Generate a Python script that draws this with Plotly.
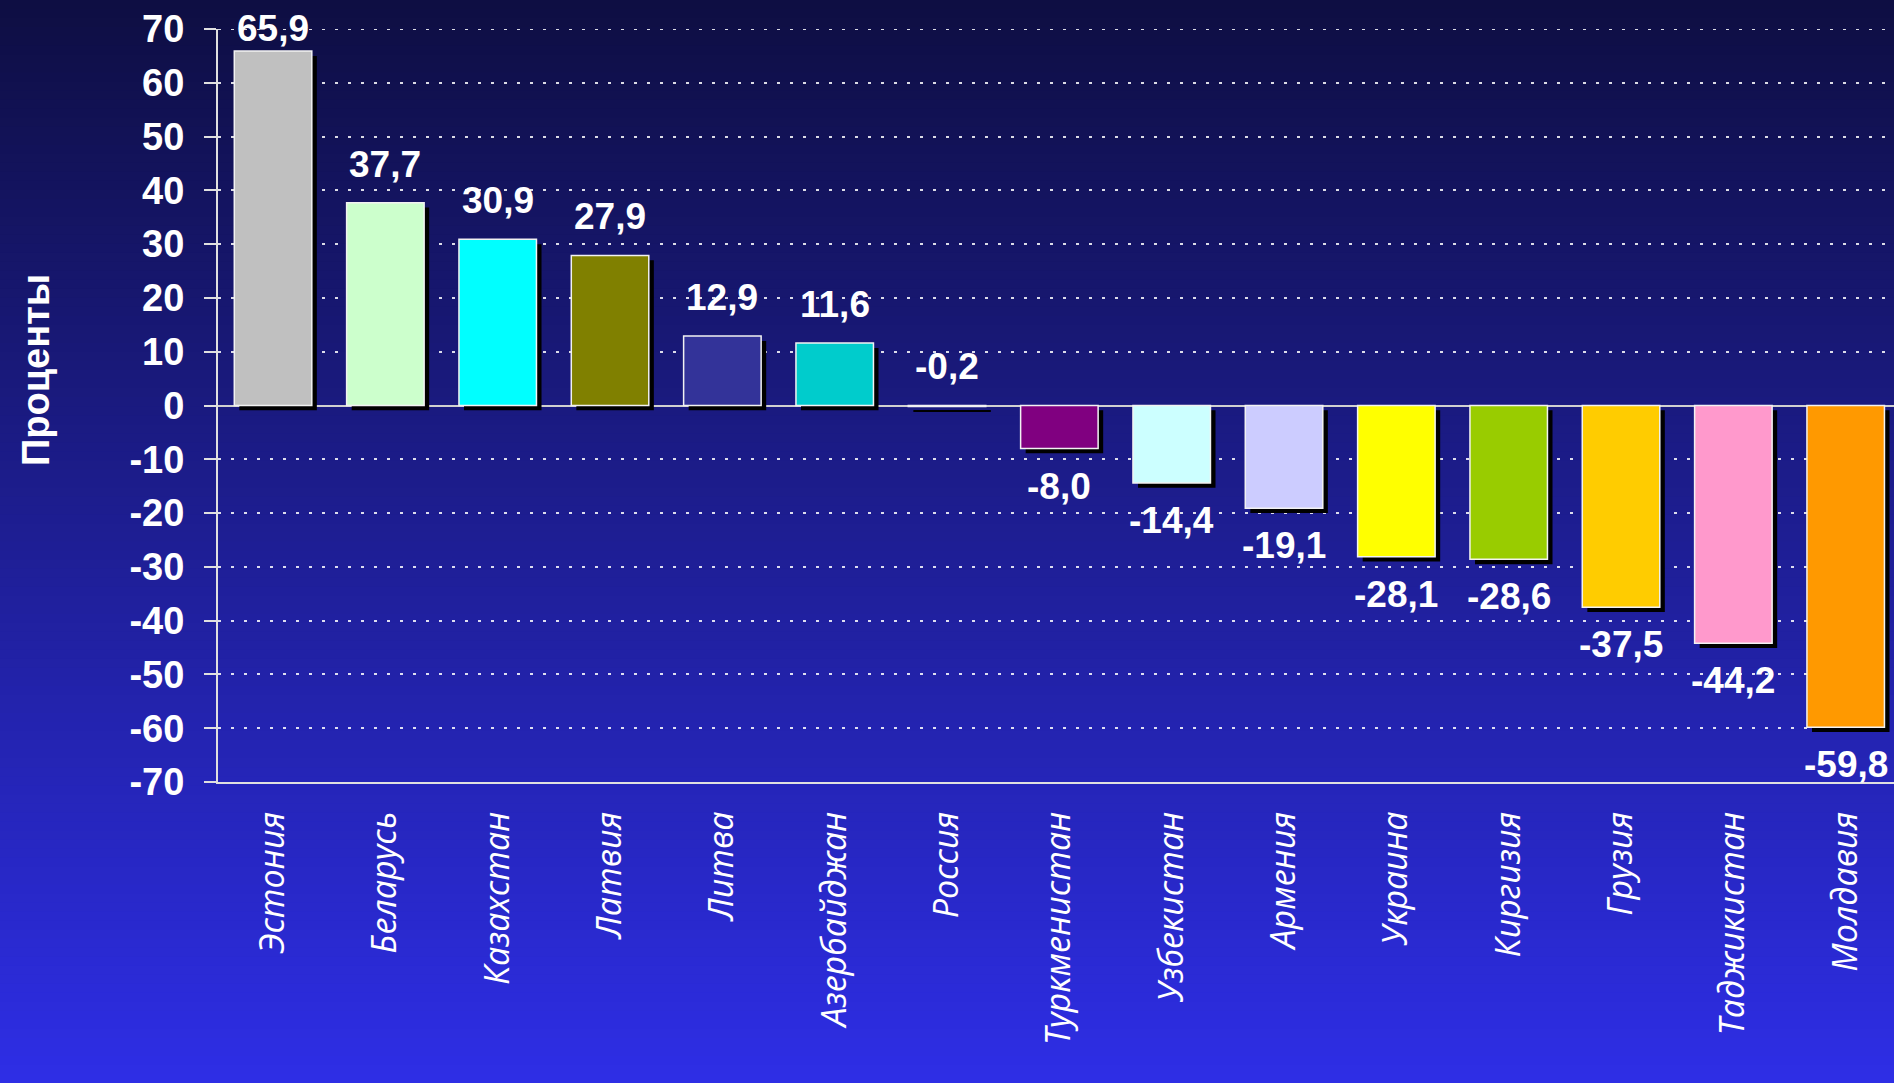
import plotly.graph_objects as go

countries = ["Эстония", "Беларусь", "Казахстан", "Латвия", "Литва", "Азербайджан",
             "Россия", "Туркменистан", "Узбекистан", "Армения", "Украина", "Киргизия",
             "Грузия", "Таджикистан", "Молдавия"]
values = [65.9, 37.7, 30.9, 27.9, 12.9, 11.6, -0.2, -8.0, -14.4, -19.1, -28.1, -28.6,
          -37.5, -44.2, -59.8]
colors = ["#C0C0C0", "#CCFFCC", "#00FFFF", "#808000", "#333399", "#00CCCC", "#FF0000",
          "#800080", "#CCFFFF", "#CCCCFF", "#FFFF00", "#99CC00", "#FFCC00", "#FF99CC",
          "#FF9900"]
y_ticks = list(range(-70, 71, 10))

W, H = 1894, 1083
ML, MR, MT, MB = 218, 0, 29, 301
plot_w = W - ML - MR
plot_h = H - MT - MB

BAR_W = 0.69
idx = list(range(len(countries)))

fig = go.Figure()

# drop shadows
fig.add_trace(go.Bar(
    x=idx, y=values, base=[-0.9] * len(values), width=BAR_W,
    offset=-BAR_W / 2 + 0.045,
    marker=dict(color="black", line=dict(width=0)),
    hoverinfo="skip", showlegend=False,
))
# bars
fig.add_trace(go.Bar(
    x=idx, y=values, width=BAR_W,
    marker=dict(color=colors, line=dict(color="#F2F2F2", width=1.5)),
    showlegend=False,
))

# value labels
annotations = []
for i, v in enumerate(values):
    txt = f"{v:.1f}".replace(".", ",")
    if v > -1:
        annotations.append(dict(x=i, y=min(max(v, 0) + 3.0, 66.0), text=txt,
                                yanchor="bottom", showarrow=False))
    else:
        annotations.append(dict(x=i, y=v - 2.8, text=txt, yanchor="top", showarrow=False))
for a in annotations:
    a.update(xref="x", yref="y", xanchor="center",
             font=dict(family="Liberation Sans, Arial", size=37, color="white", weight="bold"))

annotations.append(dict(
    xref="paper", yref="paper", x=(36 - ML) / plot_w, y=(MT + plot_h - 370) / plot_h,
    text="Проценты", textangle=-90, showarrow=False, xanchor="center", yanchor="middle",
    font=dict(family="Liberation Sans, Arial", size=38, color="white", weight="bold"),
))

# vertical gradient background
shapes = []
n = 120
top_c = (14, 14, 66)
bot_c = (46, 46, 230)
band = H / n
for k in range(n):
    t = (k + 0.5) / n
    c = tuple(round(top_c[j] + (bot_c[j] - top_c[j]) * t) for j in range(3))
    py0 = k * band
    py1 = (k + 1) * band + 1
    y0 = (MT + plot_h - py0) / plot_h
    y1 = (MT + plot_h - py1) / plot_h
    shapes.append(dict(type="rect", xref="paper", yref="paper",
                       x0=-ML / plot_w, x1=1.0 + MR / plot_w + 0.01, y0=y1, y1=y0,
                       fillcolor=f"rgb{c}", line=dict(width=0), layer="below"))

# dotted gridline along the top edge (y = max tick)
shapes.append(dict(type="line", xref="paper", yref="y", x0=0, x1=1,
                   y0=y_ticks[-1], y1=y_ticks[-1],
                   line=dict(color="rgba(255,255,255,0.85)", width=2, dash="3px,10px"),
                   layer="below"))

fig.update_layout(
    width=W, height=H,
    margin=dict(l=ML, r=MR, t=MT, b=MB, pad=0),
    paper_bgcolor="rgb(30,30,150)",
    plot_bgcolor="rgba(0,0,0,0)",
    barmode="overlay",
    shapes=shapes,
    annotations=annotations,
    xaxis=dict(
        range=[-0.49, 14.43],
        tickmode="array", tickvals=idx, ticktext=countries,
        tickangle=-90,
        tickfont=dict(family="Open Sans, DejaVu Sans", size=34, color="white", style="italic"),
        ticks="", showgrid=False, zeroline=False,
        showline=True, linecolor="#E0E0E0", linewidth=2,
        ticklabelstandoff=14,
    ),
    yaxis=dict(
        range=[-70, 70],
        tickmode="array", tickvals=y_ticks, ticktext=[str(t) for t in y_ticks],
        tickfont=dict(family="Liberation Sans, Arial", size=38, color="white", weight="bold"),
        ticks="outside", ticklen=12, tickwidth=2, tickcolor="#E0E0E0",
        showline=True, linecolor="#E0E0E0", linewidth=2,
        showgrid=True, gridcolor="rgba(255,255,255,0.85)", gridwidth=2, griddash="3px,10px",
        zeroline=True, zerolinecolor="#D0D0D0", zerolinewidth=2,
        ticklabelstandoff=12,
    ),
)

fig.write_html(
    "out.html",
    config={"displayModeBar": False},
    post_script="document.body.style.margin='0';document.body.style.overflow='hidden';",
)
